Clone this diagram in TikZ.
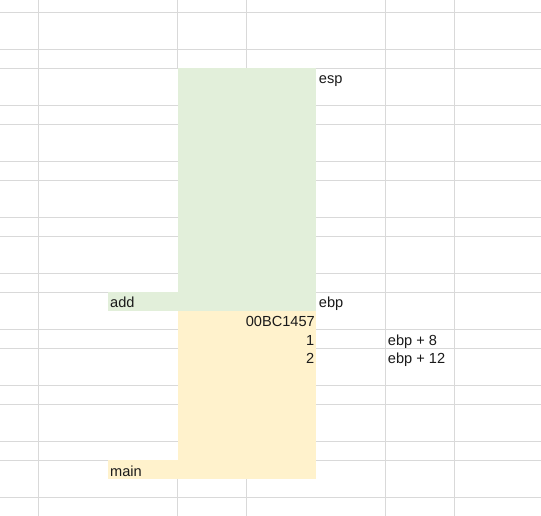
\documentclass[tikz,border=0pt]{standalone}
\usepackage{fontspec}
\setmainfont{Liberation Sans}
\definecolor{gridc}{HTML}{D9D9D9}
\definecolor{addc}{HTML}{E2EFDA}
\definecolor{mainc}{HTML}{FFF2CC}
\definecolor{txtc}{HTML}{1A1A1A}
\tikzset{
  gridline/.style={draw=gridc, line width=1pt},
  lbl/.style={inner sep=0pt, text=txtc, font=\fontsize{14.6}{16}\selectfont},
  lbll/.style={lbl, anchor=base west},
  lblr/.style={lbl, anchor=base east}
}
\begin{document}
\begin{tikzpicture}[x=1pt,y=-1pt]
\useasboundingbox (0,0) rectangle (541,516);
\fill[white] (0,0) rectangle (541,516);
% horizontal grid lines
\foreach \yy in {12.3,49.3,68.3,105.3,124.3,161.3,180.3,217.3,236.3,273.3,292.3,329.3,348.3,385.3,404.3,441.3,460.3,497.3}
  \draw[gridline] (0,\yy) -- (541,\yy);
% vertical grid lines
\foreach \xx in {38.5,385.5,454.5}
  \draw[gridline] (\xx,0) -- (\xx,516);
\foreach \xx in {177.5,246.7}{
  \draw[gridline] (\xx,0) -- (\xx,68.3);
  \draw[gridline] (\xx,478.7) -- (\xx,516);
}
% add frame (green)
\fill[addc] (177.5,68.3) rectangle (316,310.7);
\fill[addc] (108,292.3) rectangle (177.5,310.7);
% main frame (yellow)
\fill[mainc] (177.5,310.7) rectangle (316,478.7);
\fill[mainc] (108,460.3) rectangle (177.5,478.7);
% labels
\node[lbll] (esp) at (318.7,83.5) {esp};
\node[lbll] (ebp) at (318.7,307.7) {ebp};
\node[lbll] (add) at (110,307.7) {add};
\node[lblr] (ret) at (315,326.7) {00BC1457};
\node[lblr] (one) at (314.5,345) {1};
\node[lblr] (two) at (314.5,363.7) {2};
\node[lbll] (ebp8) at (387.7,345) {ebp + 8};
\node[lbll] (ebp12) at (387.7,363.7) {ebp + 12};
\node[lbll] (main) at (110,476) {main};
\end{tikzpicture}
\end{document}
